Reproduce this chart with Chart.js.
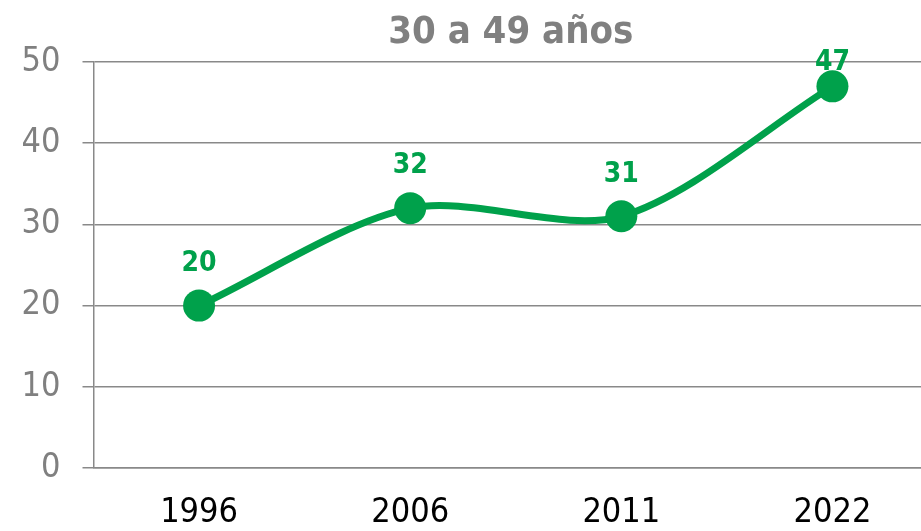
<!DOCTYPE html>
<html><head><meta charset="utf-8">
<script src="https://cdn.jsdelivr.net/npm/chart.js@4"></script>
<style>html,body{margin:0;padding:0;overflow:hidden;background:#fff;width:921px;height:531px}
#wrap{position:absolute;left:0;top:0;width:954px;height:531px}</style>
</head><body>
<div id="wrap"><canvas id="c" width="954" height="531"></canvas></div>
<script>
const titleText = "30 a 49 años";
const categories = ["1996", "2006", "2011", "2022"];
const values = [20, 32, 31, 47];
const yTicks = [0, 10, 20, 30, 40, 50];

const GREEN = "#00A14B";
const GRAY = "#898989";
const FONT = "'DejaVu Sans Condensed', 'DejaVu Sans', sans-serif";

const titlePlugin = {
  id: 'titleDraw',
  afterDraw(chart) {
    const ctx = chart.ctx, a = chart.chartArea;
    ctx.save();
    ctx.font = "bold 38px " + FONT;
    ctx.fillStyle = "#808080";
    ctx.textAlign = "center";
    ctx.textBaseline = "middle";
    ctx.fillText(titleText, (a.left + a.right) / 2 - 5, 33);
    ctx.restore();
  }
};
const labelPlugin = {
  id: 'valueLabels',
  afterDatasetsDraw(chart) {
    const ctx = chart.ctx, a = chart.chartArea;
    const meta = chart.getDatasetMeta(0);
    ctx.save();
    ctx.font = "bold 28px " + FONT;
    ctx.fillStyle = GREEN;
    ctx.textAlign = "center";
    ctx.textBaseline = "middle";
    meta.data.forEach((pt, i) => {
      const y = Math.max(pt.y - 42, a.top + 1);
      ctx.fillText(String(values[i]), pt.x, y);
    });
    ctx.restore();
  }
};

new Chart(document.getElementById('c'), {
  type: 'line',
  data: {
    labels: categories,
    datasets: [{
      data: values,
      borderColor: GREEN,
      backgroundColor: GREEN,
      borderWidth: 7,
      pointRadius: 16,
      pointHoverRadius: 16,
      pointBackgroundColor: GREEN,
      pointBorderWidth: 0,
      tension: 0.3,
      clip: false
    }]
  },
  options: {
    responsive: false,
    animation: false,
    layout: { padding: { top: 62, right: 12.5, bottom: 0, left: 0 } },
    plugins: { legend: { display: false }, title: { display: false }, tooltip: { enabled: false } },
    scales: {
      x: {
        offset: true,
        grid: { display: false, drawTicks: false },
        border: { display: true, color: GRAY, width: 1.5 },
        ticks: { color: "#000", font: { family: FONT, size: 34, lineHeight: 1 }, padding: 28, maxRotation: 0 },
        afterFit(s) { s.height = 63; }
      },
      y: {
        min: 0, max: 50,
        afterBuildTicks(s) { s.ticks = yTicks.map(v => ({ value: v })); },
        grid: { color: GRAY, lineWidth: 1.5, tickLength: 11, drawTicks: true },
        border: { display: true, color: GRAY, width: 1.5 },
        ticks: { color: "#808080", font: { family: FONT, size: 34 }, padding: 22 },
        afterFit(s) { s.width = 93.5; }
      }
    }
  },
  plugins: [titlePlugin, labelPlugin]
});
</script>
</body></html>
